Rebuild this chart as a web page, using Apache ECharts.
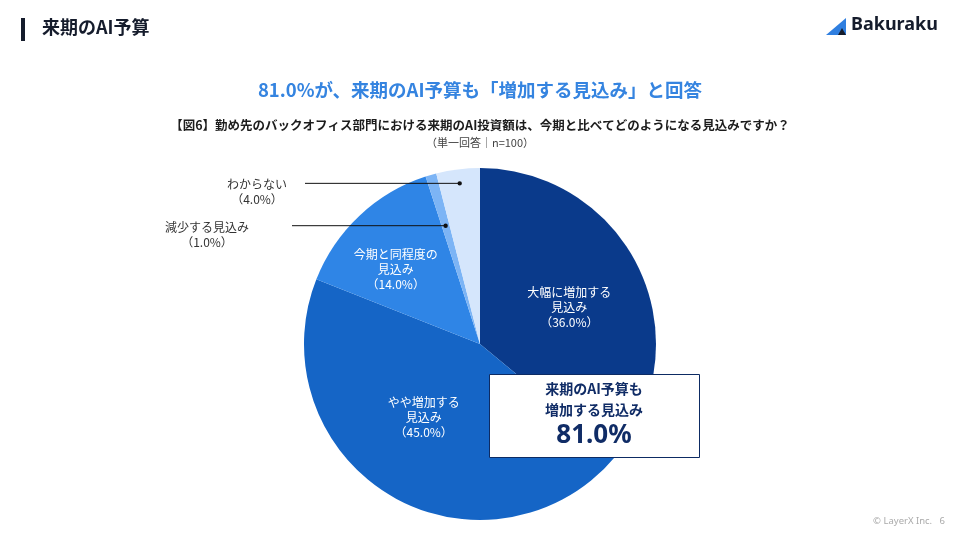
<!DOCTYPE html>
<html>
<head>
<meta charset="utf-8">
<script src="https://cdn.jsdelivr.net/npm/echarts@6/dist/echarts.min.js"></script>
<style>
    html, body { margin: 0; padding: 0; background: #fff; }
    #chart { width: 960px; height: 540px; }
</style>
</head>
<body>
<div id="chart"></div>
<script>
// 回答の選択肢と割合（%）
const categories = ['大幅に増加する\n見込み', 'やや増加する\n見込み', '今期と同程度の\n見込み', '減少する見込み', 'わからない'];
const values = [36, 45, 14, 1, 4];
const sliceColors = ['#0a3a8b', '#1565c6', '#2f85e6', '#7cb4f5', '#d5e6fc'];
const increaseShare = '81.0%';

(function () {
    const FONT = '"Noto Sans CJK JP", "Noto Sans", sans-serif';
    const my_echart = echarts.init(document.getElementById('chart'));
    const cx = 480, cy = 344, R = 176; //円グラフの中心と半径
    const total = values.reduce((a, b) => a + b, 0);

    // 外側ラベル（小さい2つ）の点の位置：データの角度から計算
    const outside = { 3: { r: 0.70, labelX: 207, lineX: 292 }, 4: { r: 0.92, labelX: 257, lineX: 305 } };
    function dotPoint(i) {
        let cum = 0;
        for (let k = 0; k < i; k++) cum += values[k];
        const mid = (cum + values[i] / 2) / total * Math.PI * 2;
        const r = R * outside[i].r;
        return [cx + r * Math.sin(mid), cy - r * Math.cos(mid)];
    }
    // 内側ラベルの微調整
    const insideShift = { 0: [7, 2], 1: [-10, -5], 2: [-22, -8] };

    const data = categories.map(function (name, i) {
        const item = { name: name, value: values[i], itemStyle: { color: sliceColors[i] } };
        if (outside[i]) {
            item.label = { position: 'outside', color: '#333' };
        }
        return item;
    });

    // 引き出し線と点（扇形の上に描く）
    const leaders = [];
    [3, 4].forEach(function (i) {
        const p = dotPoint(i);
        leaders.push({ type: 'polyline', shape: { points: [[outside[i].lineX, p[1]], [p[0], p[1]]] }, style: { stroke: '#111', lineWidth: 1 }, z: 10 });
        leaders.push({ type: 'circle', shape: { cx: p[0], cy: p[1], r: 2.2 }, style: { fill: '#111' }, z: 10 });
    });

    let option = {
        animation: false,
        textStyle: { fontFamily: FONT },
        series: [{
            type: 'pie',
            center: [cx, cy],
            radius: [0, R],
            startAngle: 90,
            clockwise: true,
            emphasis: { disabled: true },
            labelLine: { show: false },
            label: {
                show: true,
                position: 'inside',
                color: '#fff',
                fontSize: 12,
                lineHeight: 15,
                fontFamily: FONT,
                align: 'center',
                formatter: function (p) {
                    return p.name + '\n（' + p.value.toFixed(1) + '%）';
                }
            },
            labelLayout: function (params) {
                const i = params.dataIndex;
                if (outside[i]) {
                    const p = dotPoint(i);
                    return {
                        x: outside[i].labelX,
                        y: p[1] + 9,
                        align: 'center',
                        verticalAlign: 'middle'
                    };
                }
                return { dx: insideShift[i][0], dy: insideShift[i][1] };
            },
            data: data
        }],
        graphic: [
            // 見出し
            { type: 'rect', shape: { x: 21, y: 18, width: 4, height: 23 }, style: { fill: '#151c2c' } },
            { type: 'text', left: 42, top: 18, style: { text: '来期のAI予算', font: 'bold 18px ' + FONT, fill: '#151c2c' } },
            // ロゴ
            { type: 'polygon', shape: { points: [[826, 35], [846, 18], [846, 35]] }, style: { fill: '#2f7fe0' } },
            { type: 'polygon', shape: { points: [[838, 35], [842, 28], [846, 35]] }, style: { fill: '#151c2c' } },
            { type: 'text', left: 851, top: 16, style: { text: 'Bakuraku', font: 'bold 18px "Noto Sans", sans-serif', fill: '#151c2c' } },
            // タイトル
            { type: 'text', left: 'center', top: 81, style: { text: '81.0%が、来期のAI予算も「増加する見込み」と回答', font: 'bold 18.5px ' + FONT, fill: '#3584e0' } },
            { type: 'text', left: 'center', top: 119, style: { text: '【図6】勤め先のバックオフィス部門における来期のAI投資額は、今期と比べてどのようになる見込みですか？', font: 'bold 12.5px ' + FONT, fill: '#1c1c1c' } },
            { type: 'text', left: 'center', top: 137, style: { text: '（単一回答｜n=100）', font: '11px ' + FONT, fill: '#444' } },
            // 強調ボックス
            { type: 'rect', shape: { x: 489.5, y: 374.5, width: 210, height: 83 }, style: { fill: '#fff', stroke: '#0d2b63', lineWidth: 1 }, z: 20 },
            { type: 'text', x: 594, y: 378, z: 21, style: { text: '来期のAI予算も\n増加する見込み', font: 'bold 14px ' + FONT, lineHeight: 21, fill: '#102c66', align: 'center' } },
            { type: 'text', x: 594, y: 423, z: 21, style: { text: increaseShare, font: 'bold 26px "Noto Sans", sans-serif', fill: '#102c66', align: 'center' } },
            // フッター
            { type: 'text', right: 15, top: 516, style: { text: '© LayerX Inc.   6', font: '9.5px "Noto Sans", sans-serif', fill: '#aaa' } }
        ].concat(leaders)
    };
    my_echart.setOption(option);
})();
</script>
</body>
</html>
